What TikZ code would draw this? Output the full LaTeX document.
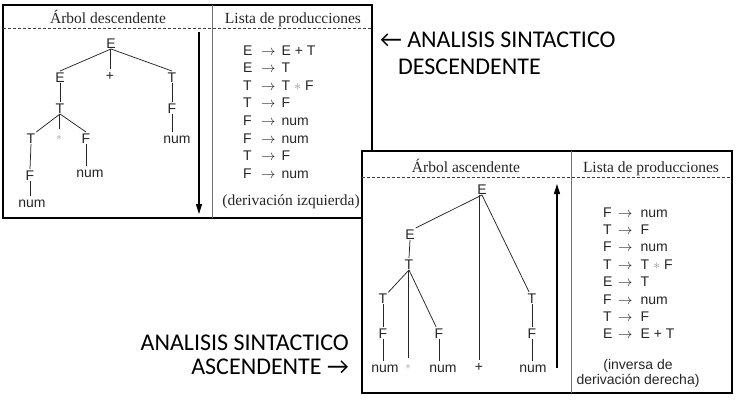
\documentclass[tikz,border=0pt]{standalone}
\usepackage{fontspec}
\setmainfont{Liberation Serif}
\newfontfamily\arialf{Liberation Sans}
\newfontfamily\calibf{Carlito}
\usetikzlibrary{arrows.meta}
\begin{document}
\begin{tikzpicture}[x=1pt,y=-1pt,
  sym/.style={font=\arialf\fontsize{14}{16}\selectfont, inner sep=1pt, outer sep=0pt,
              text height=10pt, text depth=0pt, anchor=base, text=black!85},
  starn/.style={sym, font=\arialf\fontsize{11}{13}\selectfont, text=black!40},
  prod/.style={font=\arialf\fontsize{14}{16}\selectfont, inner sep=0pt, anchor=base west, text=black!85},
  note/.style={font=\arialf\fontsize{14}{16}\selectfont, inner sep=0pt, anchor=base, text=black!85},
  hdr/.style={font=\fontsize{15.5}{18}\selectfont, inner sep=0pt, anchor=base, text=black!85},
  big/.style={font=\calibf\fontsize{24}{28}\selectfont, inner sep=0pt},
  frame/.style={line width=2.2pt, black},
  divider/.style={line width=0.8pt, black!55},
  dashline/.style={line width=0.7pt, black!75, dash pattern=on 3pt off 2pt},
  edge/.style={line width=0.75pt, black!85},
  flow/.style={line width=1.1pt, black, -{Triangle[length=10pt,width=6pt]}}
]
\useasboundingbox (0,0) rectangle (739,402);

% ---------- Box 1 : descendente ----------
\draw[frame] (3,5) rectangle (372,218);
\draw[divider] (212,5) -- (212,218);
\draw[dashline] (3,28) -- (372,28);
\node[hdr] (h1) at (108,23) {Árbol descendente};
\node[hdr] (h2) at (293,23) {Lista de producciones};

\node[sym] (a1) at (111,48) {E};
\node[sym] (a2) at (60,82) {E};
\node[sym] (a3) at (110,80) {+};
\node[sym] (a4) at (172,82) {T};
\node[sym] (a5) at (60,113) {T};
\node[sym] (a6) at (172,113) {F};
\node[sym] (a7) at (31,143) {T};
\node[starn] (a8) at (59,140) {$\ast$};
\node[sym] (a9) at (86,143) {F};
\node[sym] (a10) at (177,143) {num};
\node[sym] (a11) at (30,180) {F};
\node[sym] (a12) at (90,177) {num};
\node[sym] (a13) at (32,207) {num};

\draw[edge] (a1.south) -- (a2.north);
\draw[edge] (a3.north |- a1.south) -- (a3.north);
\draw[edge] (a1.south) -- (a4.north);
\draw[edge] (a2.south) -- (a5.north);
\draw[edge] (a5.south) -- (a7.north east);
\draw[edge] (a5.south -| a8.north) -- (a8.north);
\draw[edge] (a5.south) -- (a9.north);
\draw[edge] (a4.south) -- (a6.north);
\draw[edge] (a6.south) -- (a6.south |- a10.north);
\draw[edge] (a7.south) -- (a11.north);
\draw[edge] (a9.south) -- (a9.south |- a12.north);
\draw[edge] (a11.south) -- (a11.south |- a13.north);

\coordinate (d1) at (199,32);
\coordinate (d2) at (199,214);
\draw[flow] (d1) -- (d2);

\node[prod] (p1) at (243,55) {\makebox[18pt][l]{E}$\rightarrow$\hspace{6pt}E + T};
\node[prod] (p2) at (243,72.6) {\makebox[18pt][l]{E}$\rightarrow$\hspace{6pt}T};
\node[prod] (p3) at (243,90.2) {\makebox[18pt][l]{T}$\rightarrow$\hspace{6pt}T {\color{black!40}$\ast$} F};
\node[prod] (p4) at (243,107.8) {\makebox[18pt][l]{T}$\rightarrow$\hspace{6pt}F};
\node[prod] (p5) at (243,125.4) {\makebox[18pt][l]{F}$\rightarrow$\hspace{6pt}num};
\node[prod] (p6) at (243,143) {\makebox[18pt][l]{F}$\rightarrow$\hspace{6pt}num};
\node[prod] (p7) at (243,160.6) {\makebox[18pt][l]{T}$\rightarrow$\hspace{6pt}F};
\node[prod] (p8) at (243,178.2) {\makebox[18pt][l]{F}$\rightarrow$\hspace{6pt}num};
\node[hdr] (n1) at (291,205) {(derivación izquierda)};

% ---------- Box 2 : ascendente ----------
\draw[frame, fill=white] (362,151) rectangle (732,393);
\draw[divider] (571,151) -- (571,393);
\draw[dashline] (362,177) -- (732,177);
\node[hdr] (h3) at (466,172) {Árbol ascendente};
\node[hdr] (h4) at (651,172) {Lista de producciones};

\node[sym] (b1) at (482,194) {E};
\node[sym] (b2) at (410,239) {E};
\node[sym] (b3) at (409,269) {T};
\node[sym] (b4) at (383,303) {T};
\node[sym] (b5) at (383,338) {F};
\node[sym] (b6) at (385,372) {num};
\node[starn] (b7) at (408,369) {$\ast$};
\node[sym] (b8) at (439,338) {F};
\node[sym] (b9) at (443,372) {num};
\node[sym] (b10) at (479,371) {+};
\node[sym] (b11) at (532,303) {T};
\node[sym] (b12) at (532,338) {F};
\node[sym] (b13) at (533,372) {num};

\draw[edge] (b1.south) -- (b2.north east);
\draw[edge] (b10.north |- b1.south) -- (b10.north);
\draw[edge] (b1.south) -- (b11);
\draw[edge] (b2.south) -- (b3.north);
\draw[edge] (b3.south) -- (b4);
\draw[edge] (b3.south -| b7.north) -- (b7.north);
\draw[edge] (b3.south) -- (b8);
\draw[edge] (b4.south) -- (b5.north);
\draw[edge] (b5.south) -- (b5.south |- b6.north);
\draw[edge] (b8.south) -- (b8.south |- b9.north);
\draw[edge] (b11.south) -- (b12.north);
\draw[edge] (b12.south) -- (b12.south |- b13.north);

\coordinate (u1) at (557,368);
\coordinate (u2) at (557,184);
\draw[flow] (u1) -- (u2);

\node[prod] (q1) at (603,217) {\makebox[15pt][l]{F}$\rightarrow$\hspace{8pt}num};
\node[prod] (q2) at (603,234.4) {\makebox[15pt][l]{T}$\rightarrow$\hspace{8pt}F};
\node[prod] (q3) at (603,251.8) {\makebox[15pt][l]{F}$\rightarrow$\hspace{8pt}num};
\node[prod] (q4) at (603,269.2) {\makebox[15pt][l]{T}$\rightarrow$\hspace{8pt}T {\color{black!40}$\ast$} F};
\node[prod] (q5) at (603,286.6) {\makebox[15pt][l]{E}$\rightarrow$\hspace{8pt}T};
\node[prod] (q6) at (603,304) {\makebox[15pt][l]{F}$\rightarrow$\hspace{8pt}num};
\node[prod] (q7) at (603,321.4) {\makebox[15pt][l]{T}$\rightarrow$\hspace{8pt}F};
\node[prod] (q8) at (603,338.8) {\makebox[15pt][l]{E}$\rightarrow$\hspace{8pt}E + T};
\node[note] (m1) at (638,369) {(inversa de};
\node[note] (m2) at (638,384.5) {derivación derecha)};

% ---------- labels ----------
\node[big, anchor=base west] (l1) at (380,47) {← ANALISIS SINTACTICO};
\node[big, anchor=base west] (l2) at (398,74) {DESCENDENTE};
\node[big, font=\calibf\fontsize{24}{24}\selectfont, align=right, anchor=base east] (l3) at (349,374.5)
  {ANALISIS SINTACTICO\\ASCENDENTE →};
\end{tikzpicture}
\end{document}
